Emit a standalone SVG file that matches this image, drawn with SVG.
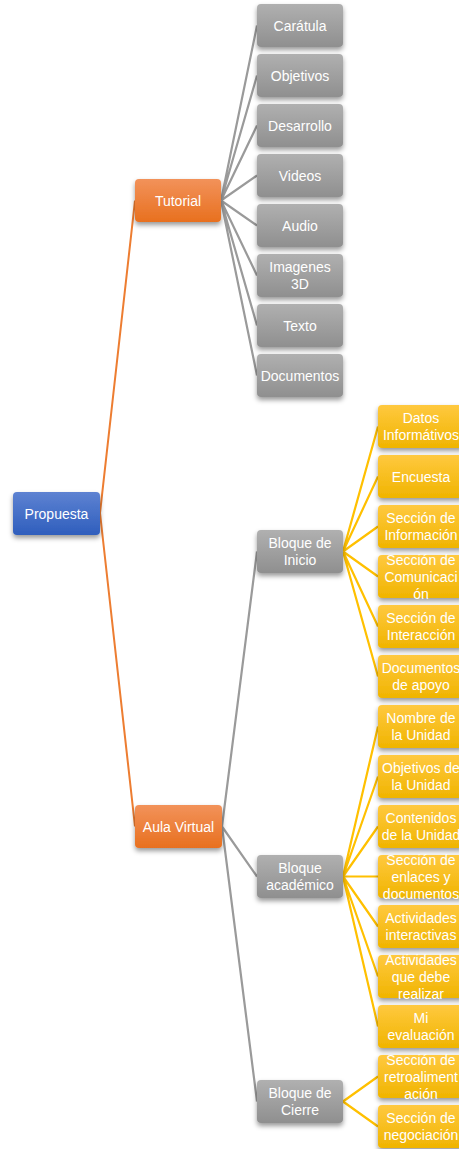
<svg xmlns="http://www.w3.org/2000/svg" width="459" height="1149" viewBox="0 0 459 1149">
<style>
text{font-family:"Liberation Sans",Arial,sans-serif;font-size:14px;fill:#ffffff;text-anchor:middle}
.gray{fill:url(#gGray)}
.org{fill:url(#gOrg)}
.yel{fill:url(#gYel)}
.blu{fill:url(#gBlu)}
.box{filter:url(#sh)}
.lo{stroke:#ed7d31;stroke-width:2;fill:none}
.lg{stroke:#9a9a9a;stroke-width:2.2;fill:none}
.ly{stroke:#ffc000;stroke-width:2.2;fill:none}
</style>
<defs>
<linearGradient id="gGray" x1="0" y1="0" x2="0" y2="1"><stop offset="0" stop-color="#b0b0b0"/><stop offset="1" stop-color="#8f8f8f"/></linearGradient>
<linearGradient id="gOrg" x1="0" y1="0" x2="0" y2="1"><stop offset="0" stop-color="#f2925a"/><stop offset="1" stop-color="#e8701f"/></linearGradient>
<linearGradient id="gYel" x1="0" y1="0" x2="0" y2="1"><stop offset="0" stop-color="#ffc93f"/><stop offset="1" stop-color="#f0b400"/></linearGradient>
<linearGradient id="gBlu" x1="0" y1="0" x2="0" y2="1"><stop offset="0" stop-color="#5d82d2"/><stop offset="1" stop-color="#2f5ebd"/></linearGradient>
<filter id="sh" x="-20%" y="-20%" width="140%" height="160%"><feDropShadow dx="0" dy="3" stdDeviation="2.5" flood-color="#000" flood-opacity="0.4"/></filter>
</defs>
<g id="connectors">
<path class="lo" d="M100,513 L135,200.5 M100,513 L135,826.5"/>
<path class="lg" d="M221,200.5 L257,25.5 M221,200.5 L257,75.5 M221,200.5 L257,125.5 M221,200.5 L257,175.5 M221,200.5 L257,225.5 M221,200.5 L257,275.5 M221,200.5 L257,325.5 M221,200.5 L257,375.5"/>
<path class="lg" d="M222,826.5 L257,551.5 M222,826.5 L257,876.5 M222,826.5 L257,1101.5"/>
<path class="ly" d="M343,551.5 L378,426.5 M343,551.5 L378,476.5 M343,551.5 L378,526.5 M343,551.5 L378,576.5 M343,551.5 L378,626.5 M343,551.5 L378,676.5"/>
<path class="ly" d="M343,876.5 L378,726.5 M343,876.5 L378,776.5 M343,876.5 L378,826.5 M343,876.5 L378,876.5 M343,876.5 L378,926.5 M343,876.5 L378,976.5 M343,876.5 L378,1026.5"/>
<path class="ly" d="M343,1101.5 L378,1076.5 M343,1101.5 L378,1126.5"/>
</g>
<g id="propuesta"><rect class="box blu" x="13" y="492" width="87" height="43" rx="4"/><text x="56.5" y="518.5">Propuesta</text></g>
<g id="tutorial"><rect class="box org" x="135" y="179" width="86" height="43" rx="4"/><text x="178" y="205.5">Tutorial</text></g>
<g id="aula"><rect class="box org" x="135" y="805" width="87" height="43" rx="4"/><text x="178.5" y="831.5">Aula Virtual</text></g>
<g id="caratula"><rect class="box gray" x="257" y="4" width="86" height="43" rx="4"/><text x="300" y="30.5">Carátula</text></g>
<g id="objetivos"><rect class="box gray" x="257" y="54" width="86" height="43" rx="4"/><text x="300" y="80.5">Objetivos</text></g>
<g id="desarrollo"><rect class="box gray" x="257" y="104" width="86" height="43" rx="4"/><text x="300" y="130.5">Desarrollo</text></g>
<g id="videos"><rect class="box gray" x="257" y="154" width="86" height="43" rx="4"/><text x="300" y="180.5">Videos</text></g>
<g id="audio"><rect class="box gray" x="257" y="204" width="86" height="43" rx="4"/><text x="300" y="230.5">Audio</text></g>
<g id="imagenes"><rect class="box gray" x="257" y="254" width="86" height="43" rx="4"/><text x="300" y="272">Imagenes</text><text x="300" y="289">3D</text></g>
<g id="texto"><rect class="box gray" x="257" y="304" width="86" height="43" rx="4"/><text x="300" y="330.5">Texto</text></g>
<g id="documentos"><rect class="box gray" x="257" y="354" width="86" height="43" rx="4"/><text x="300" y="380.5">Documentos</text></g>
<g id="bInicio"><rect class="box gray" x="257" y="530" width="86" height="43" rx="4"/><text x="300" y="548">Bloque de</text><text x="300" y="565">Inicio</text></g>
<g id="bAcademico"><rect class="box gray" x="257" y="855" width="86" height="43" rx="4"/><text x="300" y="873">Bloque</text><text x="300" y="890">académico</text></g>
<g id="bCierre"><rect class="box gray" x="257" y="1080" width="86" height="43" rx="4"/><text x="300" y="1098">Bloque de</text><text x="300" y="1115">Cierre</text></g>
<g id="y0"><rect class="box yel" x="378" y="405" width="86" height="43" rx="4"/><text x="421" y="423">Datos</text><text x="421" y="440">Informátivos</text></g>
<g id="y1"><rect class="box yel" x="378" y="455" width="86" height="43" rx="4"/><text x="421" y="481.5">Encuesta</text></g>
<g id="y2"><rect class="box yel" x="378" y="505" width="86" height="43" rx="4"/><text x="421" y="523">Sección de</text><text x="421" y="540">Información</text></g>
<g id="y3"><rect class="box yel" x="378" y="555" width="86" height="43" rx="4"/><text x="421" y="564.5">Sección de</text><text x="421" y="581.5">Comunicaci</text><text x="421" y="598.5">ón</text></g>
<g id="y4"><rect class="box yel" x="378" y="605" width="86" height="43" rx="4"/><text x="421" y="623">Sección de</text><text x="421" y="640">Interacción</text></g>
<g id="y5"><rect class="box yel" x="378" y="655" width="86" height="43" rx="4"/><text x="421" y="673">Documentos</text><text x="421" y="690">de apoyo</text></g>
<g id="y6"><rect class="box yel" x="378" y="705" width="86" height="43" rx="4"/><text x="421" y="723">Nombre de</text><text x="421" y="740">la Unidad</text></g>
<g id="y7"><rect class="box yel" x="378" y="755" width="86" height="43" rx="4"/><text x="421" y="773">Objetivos de</text><text x="421" y="790">la Unidad</text></g>
<g id="y8"><rect class="box yel" x="378" y="805" width="86" height="43" rx="4"/><text x="421" y="823">Contenidos</text><text x="421" y="840">de la Unidad</text></g>
<g id="y9"><rect class="box yel" x="378" y="855" width="86" height="43" rx="4"/><text x="421" y="864.5">Sección de</text><text x="421" y="881.5">enlaces y</text><text x="421" y="898.5">documentos</text></g>
<g id="y10"><rect class="box yel" x="378" y="905" width="86" height="43" rx="4"/><text x="421" y="923">Actividades</text><text x="421" y="940">interactivas</text></g>
<g id="y11"><rect class="box yel" x="378" y="955" width="86" height="43" rx="4"/><text x="421" y="964.5">Actividades</text><text x="421" y="981.5">que debe</text><text x="421" y="998.5">realizar</text></g>
<g id="y12"><rect class="box yel" x="378" y="1005" width="86" height="43" rx="4"/><text x="421" y="1023">Mi</text><text x="421" y="1040">evaluación</text></g>
<g id="y13"><rect class="box yel" x="378" y="1055" width="86" height="43" rx="4"/><text x="421" y="1064.5">Sección de</text><text x="421" y="1081.5">retroaliment</text><text x="421" y="1098.5">ación</text></g>
<g id="y14"><rect class="box yel" x="378" y="1105" width="86" height="43" rx="4"/><text x="421" y="1123">Sección de</text><text x="421" y="1140">negociación</text></g>
</svg>
